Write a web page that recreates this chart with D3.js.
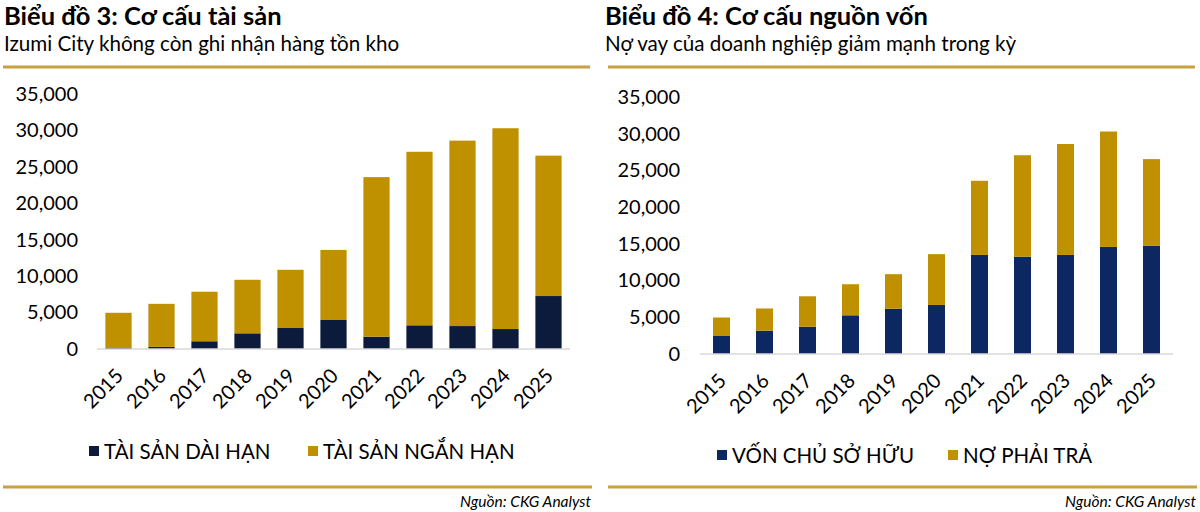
<!DOCTYPE html>
<html>
<head>
<meta charset="utf-8">
<script src="https://cdn.jsdelivr.net/npm/d3@7"></script>
<style>
  body { margin: 0; background: #fff; }
  svg { display: block; font-family: Lato, "Open Sans", sans-serif; }
</style>
</head>
<body>
<svg id="chart" width="1200" height="512"></svg>
<script>
// data (ty dong)
let years = ['2015', '2016', '2017', '2018', '2019', '2020', '2021', '2022', '2023', '2024', '2025'];
let yTicks = [0, 5000, 10000, 15000, 20000, 25000, 30000, 35000];

// chart 3: asset structure
let longTermAssets = [200, 300, 1060, 2150, 2880, 3980, 1690, 3250, 3150, 2740, 7270];
let shortTermAssets = [4770, 5900, 6800, 7350, 7990, 9620, 21900, 23820, 25450, 27560, 19270];

// chart 4: capital structure
let equity = [2450, 3170, 3720, 5270, 6170, 6680, 13490, 13260, 13490, 14580, 14760];
let liabilities = [2520, 3030, 4140, 4230, 4700, 6920, 10100, 13810, 15110, 15720, 11780];

let gold = '#bf9000';
let lineGold = '#c9a141';

let svg = d3.select('#chart');

let drawPanel = (opt) => {
  let g = svg.append('g');

  // header
  g.append('text').attr('x', opt.left).attr('y', 25)
    .attr('font-size', 25.5).attr('font-weight', 700).attr('fill', '#000')
    .text(opt.title);
  g.append('text').attr('x', opt.left).attr('y', 51)
    .attr('font-size', 20.6).attr('fill', '#000')
    .text(opt.subtitle);
  g.append('line')
    .attr('x1', opt.lineX1).attr('x2', opt.lineX2).attr('y1', 67).attr('y2', 67)
    .attr('stroke', lineGold).attr('stroke-width', 3);

  let x = d3.scaleBand().domain(years).range(opt.xRange)
    .paddingInner(opt.padInner).paddingOuter(opt.padInner / 2);
  let y = d3.scaleLinear().domain([0, 35000]).range(opt.yRange);

  let rows = years.map((yr, i) => ({ year: yr, a: opt.bottom[i], b: opt.top[i] }));
  let stack = d3.stack().keys(['a', 'b'])(rows);
  let colors = [opt.dark, gold];

  g.selectAll('g.series')
    .data(stack)
    .enter()
    .append('g')
    .attr('fill', (d, i) => colors[i])
    .selectAll('rect')
    .data(d => d)
    .enter()
    .append('rect')
    .attr('x', d => x(d.data.year))
    .attr('width', x.bandwidth())
    .attr('y', d => y(d[1]))
    .attr('height', d => y(d[0]) - y(d[1]));

  // base line
  g.append('line')
    .attr('x1', opt.xRange[0]).attr('x2', opt.xRange[1])
    .attr('y1', y(0)).attr('y2', y(0))
    .attr('stroke', '#d9d9d9').attr('stroke-width', 1.5);

  // y axis labels
  let yAxis = d3.axisLeft(y).tickValues(yTicks).tickSize(0).tickPadding(0)
    .tickFormat(d3.format(','));
  let ya = g.append('g').attr('transform', `translate(${opt.yLabelX},0)`).call(yAxis);
  ya.select('.domain').remove();
  ya.selectAll('text').attr('font-size', 20).attr('fill', '#000')
    .attr('font-family', 'Lato, sans-serif');

  // x axis labels, rotated
  let xAxis = d3.axisBottom(x).tickSize(0).tickPadding(0);
  let xa = g.append('g').attr('transform', `translate(0,${y(0)})`).call(xAxis);
  xa.select('.domain').remove();
  xa.selectAll('text')
    .attr('font-size', 20).attr('fill', '#000').attr('font-family', 'Lato, sans-serif')
    .attr('text-anchor', 'end').attr('dy', null).attr('y', 0)
    .attr('transform', 'translate(6,28) rotate(-45)');

  // legend
  opt.legend.forEach((lg, i) => {
    g.append('rect').attr('x', lg.x).attr('y', opt.legendY - 13)
      .attr('width', 10).attr('height', 10).attr('fill', colors[i]);
    g.append('text').attr('x', lg.x + 15).attr('y', opt.legendY)
      .attr('font-size', 20.5).attr('fill', '#000').text(lg.label);
  });

  // footer
  g.append('line')
    .attr('x1', opt.lineX1).attr('x2', opt.lineX2 + 2).attr('y1', 487).attr('y2', 487)
    .attr('stroke', lineGold).attr('stroke-width', 3);
  g.append('text').attr('x', opt.lineX2 + 1).attr('y', 507)
    .attr('text-anchor', 'end').attr('font-size', 15.5).attr('font-style', 'italic')
    .attr('fill', '#000').text('Nguồn: CKG Analyst');
};

drawPanel({
  title: 'Biểu đồ 3: Cơ cấu tài sản',
  subtitle: 'Izumi City không còn ghi nhận hàng tồn kho',
  left: 4, lineX1: 3, lineX2: 590,
  xRange: [97, 570], padInner: 0.39, yRange: [349, 94], yLabelX: 78,
  bottom: longTermAssets, top: shortTermAssets, dark: '#0c1a3c',
  legendY: 459,
  legend: [{ x: 89, label: 'TÀI SẢN DÀI HẠN' }, { x: 308, label: 'TÀI SẢN NGẮN HẠN' }]
});

drawPanel({
  title: 'Biểu đồ 4: Cơ cấu nguồn vốn',
  subtitle: 'Nợ vay của doanh nghiệp giảm mạnh trong kỳ',
  left: 605, lineX1: 608, lineX2: 1195,
  xRange: [700, 1173], padInner: 0.605, yRange: [354, 97], yLabelX: 680,
  bottom: equity, top: liabilities, dark: '#0d2762',
  legendY: 463,
  legend: [{ x: 717, label: 'VỐN CHỦ SỞ HỮU' }, { x: 948, label: 'NỢ PHẢI TRẢ' }]
});
</script>
</body>
</html>
